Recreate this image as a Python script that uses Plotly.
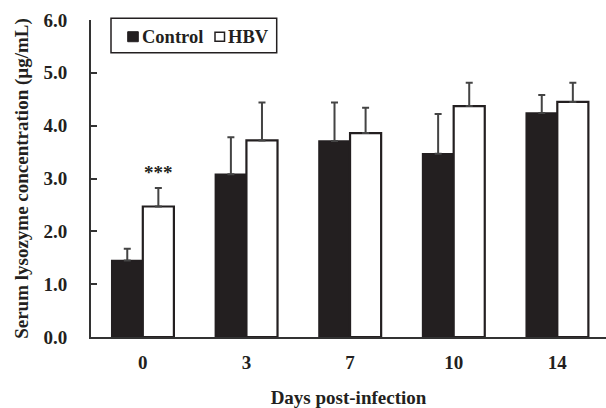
import plotly.graph_objects as go

days = ["0", "3", "7", "10", "14"]
control_mean = [1.45, 3.08, 3.71, 3.47, 4.24]
control_sd = [0.22, 0.70, 0.73, 0.75, 0.34]
hbv_mean = [2.47, 3.72, 3.86, 4.37, 4.45]
hbv_sd = [0.35, 0.72, 0.48, 0.44, 0.36]
y_ticks = [0, 1, 2, 3, 4, 5, 6]
y_tick_text = ["0.0", "1.0", "2.0", "3.0", "4.0", "5.0", "6.0"]

SERIF = "Liberation Serif, Times New Roman, serif"
INK = "#231f20"

fig = go.Figure()
fig.add_trace(go.Bar(
    name="Control", x=days, y=control_mean,
    marker=dict(color=INK, line=dict(color=INK, width=1.5)),
    error_y=dict(type="data", array=control_sd, arrayminus=[0] * len(days),
                 symmetric=False, color="#444444", thickness=2, width=3.5),
))
fig.add_trace(go.Bar(
    name="HBV", x=days, y=hbv_mean,
    marker=dict(color="white", line=dict(color=INK, width=2.2)),
    error_y=dict(type="data", array=hbv_sd, arrayminus=[0] * len(days),
                 symmetric=False, color="#444444", thickness=2, width=3.5),
))

# significance marker above day-0 HBV bar
fig.add_annotation(x=0.15, y=hbv_mean[0] + hbv_sd[0] + 0.3, xref="x", yref="y",
                   text="***", showarrow=False,
                   font=dict(family=SERIF, size=19, color=INK))

# legend drawn as a framed key
W = 515.0
H = 316.7
def px(xp):
    return (xp - 91) / W
def py(yp):
    return (336.7 - yp) / H

fig.add_shape(type="rect", xref="paper", yref="paper",
              x0=px(111), x1=px(276.7), y0=py(52.7), y1=py(18.3),
              line=dict(color=INK, width=1.5), fillcolor="white")
fig.add_shape(type="rect", xref="paper", yref="paper",
              x0=px(127.7), x1=px(138.3), y0=py(41.7), y1=py(31.7),
              line=dict(color=INK, width=1), fillcolor=INK)
fig.add_shape(type="rect", xref="paper", yref="paper",
              x0=px(215), x1=px(224.5), y0=py(41.2), y1=py(32.2),
              line=dict(color=INK, width=1.5), fillcolor="white")
fig.add_annotation(x=px(140), y=py(36.5), xref="paper", yref="paper",
                   text="Control", showarrow=False, xanchor="left", yanchor="middle",
                   font=dict(family=SERIF, size=18.5, color=INK, weight="bold"))
fig.add_annotation(x=px(225.5), y=py(36.5), xref="paper", yref="paper",
                   text="HBV", showarrow=False, xanchor="left", yanchor="middle",
                   font=dict(family=SERIF, size=18.5, color=INK, weight="bold"))

fig.update_layout(
    width=606, height=408,
    margin=dict(l=91, r=0, t=20, b=71.3),
    paper_bgcolor="white", plot_bgcolor="white",
    barmode="group", bargap=0.4, bargroupgap=0,
    showlegend=False,
    font=dict(family=SERIF, color=INK, size=19, weight="bold"),
    xaxis=dict(
        range=[-0.5, 4.47], showline=True, linecolor="#333333", linewidth=2,
        ticks="", showgrid=False, zeroline=False,
        tickfont=dict(family=SERIF, size=19, weight="bold"),
        ticklabelstandoff=7,
        title=dict(text="Days post-infection", standoff=21,
                   font=dict(family=SERIF, size=19, weight="bold")),
    ),
    yaxis=dict(
        range=[0, 6], tickvals=y_ticks, ticktext=y_tick_text,
        showline=True, linecolor="#333333", linewidth=2,
        ticks="inside", ticklen=6, tickwidth=2, tickcolor="#333333",
        showgrid=False, zeroline=False,
        tickfont=dict(family=SERIF, size=19, weight="bold"),
        ticklabelstandoff=18,
        title=dict(text="Serum lysozyme concentration (µg/mL)", standoff=10,
                   font=dict(family=SERIF, size=19, weight="bold")),
    ),
)

fig.write_html("out.html")
